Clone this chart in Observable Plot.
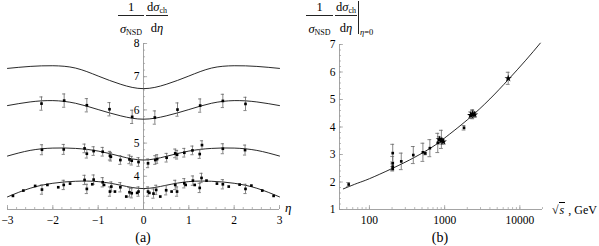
<!DOCTYPE html>
<html><head><meta charset="utf-8">
<script src="https://cdn.jsdelivr.net/npm/d3@7"></script>
<script src="https://cdn.jsdelivr.net/npm/@observablehq/plot@0.6"></script>
<style>
body{margin:0;background:#fff;}
#wrap{position:relative;width:599px;height:246px;font-family:"Liberation Serif","Times New Roman",Times,"DejaVu Serif","Noto Serif",serif;color:#000;overflow:hidden;}
#wrap svg{position:absolute;top:0;}
#wrap svg text{font-family:"Liberation Serif","Times New Roman",Times,"DejaVu Serif","Noto Serif",serif;}
.lab{position:absolute;white-space:nowrap;line-height:1;color:#000;}
.sub{font-size:8px;position:relative;top:2px;font-style:normal;color:#000;}
.hl{position:absolute;height:1px;background:#222;}
</style></head><body><div id="wrap"></div>
<script>
// ---------- panel (a) data ----------
const etaGrid  = [-3,-2.5,-2,-1.5,-1,-0.5,0,0.5,1,1.5,2,2.5,3];
const curveTop = [7.25,7.31,7.33,7.26,7.02,6.77,6.64,6.77,7.02,7.26,7.33,7.31,7.25];
const curve2   = [6.13,6.24,6.28,6.20,6.01,5.82,5.72,5.82,6.01,6.20,6.28,6.24,6.13];
const curve3   = [4.61,4.78,4.85,4.84,4.76,4.60,4.49,4.60,4.76,4.84,4.85,4.78,4.61];
const curve4   = [3.38,3.64,3.79,3.85,3.84,3.73,3.63,3.73,3.84,3.85,3.79,3.64,3.38];

const s2Eta = [-2.25,-1.75,-1.25,-0.75,-0.25,0.25,0.75,1.25,1.75,2.25];
const s2Val = [6.19,6.28,6.14,6.02,5.79,5.77,6.01,6.13,6.27,6.18];
const s2Err = [0.2,0.2,0.2,0.2,0.2,0.2,0.2,0.2,0.2,0.2];

const s3Eta = [-2.24,-1.76,-1.30,-1.25,-1.10,-0.90,-0.74,-0.72,-0.51,-0.31,-0.26,-0.11,0.10,0.26,0.30,0.51,0.70,0.74,0.90,1.08,1.24,1.29,1.75,2.24];
const s3Val = [4.80,4.81,4.84,4.68,4.76,4.74,4.62,4.59,4.49,4.51,4.47,4.43,4.39,4.49,4.52,4.56,4.69,4.65,4.71,4.78,4.67,4.94,4.83,4.79];
const s3Err = [0.15,0.15,0.13,0.13,0.13,0.13,0.13,0.13,0.13,0.13,0.13,0.13,0.13,0.13,0.13,0.13,0.13,0.13,0.13,0.13,0.13,0.13,0.15,0.15];

const s4Eta = [-2.88,-2.65,-2.39,-2.24,-2.12,-1.88,-1.76,-1.62,-1.30,-1.25,-1.13,-1.10,-0.90,-0.87,-0.74,-0.71,-0.63,-0.51,-0.38,-0.31,-0.26,-0.14,-0.11,0.10,0.13,0.22,0.28,0.37,0.50,0.62,0.70,0.74,0.90,0.93,1.09,1.13,1.24,1.28,1.39,1.62,1.75,1.88,2.12,2.25,2.38,2.62,2.87];
const s4Val = [3.41,3.57,3.71,3.60,3.74,3.67,3.74,3.78,3.89,3.62,3.76,3.90,3.82,3.74,3.54,3.69,3.54,3.67,3.39,3.52,3.49,3.50,3.54,3.54,3.50,3.48,3.59,3.39,3.58,3.54,3.74,3.54,3.79,3.74,3.87,3.74,3.65,3.95,3.87,3.78,3.76,3.69,3.75,3.62,3.72,3.57,3.41];
const s4Err = [0,0,0,0.14,0,0,0.14,0,0.14,0.14,0,0.14,0.14,0,0.14,0.14,0,0.14,0,0.14,0.14,0,0.14,0.14,0,0.14,0.14,0,0.14,0,0.14,0.14,0.14,0,0.14,0,0.14,0.14,0,0,0.14,0,0,0.14,0,0,0];

const etaTicks = [-3,-2,-1,0,1,2,3];
const yTicksA  = [4,5,6,7,8];

// ---------- panel (b) data ----------
const curveS = [45,70,100,200,400,700,1000,2000,4000,7000,12000,18700];
const curveV = [1.75,1.96,2.12,2.49,2.90,3.29,3.60,4.26,5.02,5.72,6.43,7.05];

const sqS   = [53,204,204,204,204,265,383,514,553,636,810,905,1810,2360];
const sqV   = [1.91,3.05,2.68,2.56,2.48,2.75,2.98,3.08,3.04,3.23,3.42,3.55,3.97,4.45];
const sqErr = [0.07,0.32,0.25,0.1,0.08,0.3,0.31,0.33,0.05,0.31,0.35,0.33,0.08,0.15];

const stS   = [850,900,960,2220,2360,2500,7000];
const stV   = [3.55,3.50,3.47,4.43,4.48,4.45,5.77];
const stErr = [0.1,0.12,0.1,0.12,0.15,0.1,0.22];

const sTicks   = [100,1000,10000];
const yTicksB  = [1,2,3,4,5,6,7];

// ---------- helpers ----------
const FONT = '"Liberation Serif","Times New Roman",Times,"DejaVu Serif","Noto Serif",serif';
const minus = d => d < 0 ? "\u2212" + (-d) : String(d);
const pts = (xs, ys, es) => xs.map((x, i) => ({x, y: ys[i], e: es[i]}));
const curveRows = (xs, ys, name) => xs.map((x, i) => ({x, y: ys[i], name}));
const AX = "#9a9a9a", EB = "#666";

function errMarks(data, capHalf, logCap) {
  const d = data.filter(p => p.e > 0);
  return [
    Plot.ruleX(d, {x: "x", y1: p => p.y - p.e, y2: p => p.y + p.e, stroke: EB, strokeWidth: 0.8}),
    Plot.ruleY(d, {y: p => p.y - p.e, x1: p => logCap ? p.x / capHalf : p.x - capHalf, x2: p => logCap ? p.x * capHalf : p.x + capHalf, stroke: EB, strokeWidth: 0.8}),
    Plot.ruleY(d, {y: p => p.y + p.e, x1: p => logCap ? p.x / capHalf : p.x - capHalf, x2: p => logCap ? p.x * capHalf : p.x + capHalf, stroke: EB, strokeWidth: 0.8})
  ];
}

// ---------- panel (a) ----------
const curvesA = [
  ...curveRows(etaGrid, curveTop, "a"), ...curveRows(etaGrid, curve2, "b"),
  ...curveRows(etaGrid, curve3, "c"), ...curveRows(etaGrid, curve4, "d")];
const p2 = pts(s2Eta, s2Val, s2Err), p3 = pts(s3Eta, s3Val, s3Err), p4 = pts(s4Eta, s4Val, s4Err);
const etaMinor = d3.range(-3, 3.001, 0.2).map(v => +v.toFixed(2));
const yMinorA = d3.range(3, 8.001, 0.2).map(v => +v.toFixed(2));

const left = Plot.plot({
  width: 300, height: 246, marginLeft: 7, marginRight: 21, marginTop: 43, marginBottom: 37,
  x: {domain: [-3, 3], axis: null}, y: {domain: [3, 8], axis: null},
  style: {fontFamily: FONT, fontSize: "11.5px", background: "transparent", overflow: "visible"},
  marks: [
    Plot.ruleY([3], {x1: -3, x2: 3, stroke: AX, strokeWidth: 0.9}),
    Plot.ruleX([0], {y1: 3, y2: 8, stroke: AX, strokeWidth: 0.9}),
    Plot.ruleX(etaMinor, {x: d => d, y1: 3, y2: 3.06, stroke: AX, strokeWidth: 0.7}),
    Plot.ruleX(etaTicks, {x: d => d, y1: 3, y2: 3.12, stroke: AX, strokeWidth: 0.8}),
    Plot.ruleY(yMinorA, {y: d => d, x1: 0, x2: 0.045, stroke: AX, strokeWidth: 0.7}),
    Plot.ruleY(yTicksA, {y: d => d, x1: 0, x2: 0.09, stroke: AX, strokeWidth: 0.8}),
    Plot.text(etaTicks, {x: d => d, y: 3, dy: 11, text: minus, fill: "#000", fontFamily: FONT}),
    Plot.text(yTicksA, {x: 0, y: d => d, dx: -4, textAnchor: "end", text: d => String(d), fill: "#000", fontFamily: FONT}),
    Plot.line(curvesA, {x: "x", y: "y", z: "name", curve: "natural", stroke: "#111", strokeWidth: 0.9}),
    ...errMarks(p2, 0.035, false), ...errMarks(p3, 0.035, false), ...errMarks(p4, 0.035, false),
    Plot.dot([...p2, ...p3, ...p4], {x: "x", y: "y", r: 1.5, fill: "#000", stroke: null, symbol: "square"})
  ]
});

// ---------- panel (b) ----------
const curveB = curveRows(curveS, curveV, "fit");
const pSq = pts(sqS, sqV, sqErr), pSt = pts(stS, stV, stErr);
const sMinor = [];
[10, 100, 1000, 10000].forEach(dec => { for (let k = 1; k <= 9; k++) { const v = k * dec; if (v >= 40 && v <= 20000) sMinor.push(v); } });
const yMinorB = d3.range(1, 7.001, 0.2).map(v => +v.toFixed(2));

const right = Plot.plot({
  width: 299, height: 246, marginLeft: 39, marginRight: 57, marginTop: 44, marginBottom: 37,
  x: {type: "log", domain: [40, 20000], axis: null}, y: {domain: [1, 7], axis: null},
  style: {fontFamily: FONT, fontSize: "11.5px", background: "transparent", overflow: "visible"},
  marks: [
    Plot.ruleY([1], {x1: 40, x2: 20000, stroke: AX, strokeWidth: 0.9}),
    Plot.ruleX([40], {y1: 1, y2: 7, stroke: AX, strokeWidth: 0.9}),
    Plot.ruleX(sMinor, {x: d => d, y1: 1, y2: 1.07, stroke: AX, strokeWidth: 0.7}),
    Plot.ruleX(sTicks, {x: d => d, y1: 1, y2: 1.14, stroke: AX, strokeWidth: 0.8}),
    Plot.ruleY(yMinorB, {y: d => d, x1: 40, x2: 42.5, stroke: AX, strokeWidth: 0.7}),
    Plot.ruleY(yTicksB, {y: d => d, x1: 40, x2: 45, stroke: AX, strokeWidth: 0.8}),
    Plot.text(sTicks, {x: d => d, y: 1, dy: 11, text: d => String(d), fill: "#000", fontFamily: FONT}),
    Plot.text(yTicksB, {x: 40, y: d => d, dx: -4, textAnchor: "end", text: d => String(d), fill: "#000", fontFamily: FONT}),
    Plot.line(curveB, {x: "x", y: "y", curve: "natural", stroke: "#111", strokeWidth: 0.9}),
    ...errMarks(pSq, 1.06, true), ...errMarks(pSt, 1.06, true),
    Plot.dot(pSq, {x: "x", y: "y", r: 1.5, fill: "#000", stroke: null, symbol: "square"}),
    Plot.dot(pSt, {x: "x", y: "y", r: 2.3, fill: "#000", stroke: null, symbol: "star"})
  ]
});

const wrap = document.getElementById("wrap");
left.style.left = "0px";
right.style.left = "300px";
wrap.appendChild(left);
wrap.appendChild(right);

// ---------- text labels ----------
function lab(html, x, base, fs, anchor, extra) {
  const d = document.createElement("div");
  d.className = "lab";
  d.innerHTML = html;
  d.style.fontSize = fs + "px";
  d.style.left = x + "px";
  d.style.top = (base - 0.84 * fs) + "px";
  if (anchor === "middle") d.style.transform = "translateX(-50%)";
  if (extra) Object.assign(d.style, extra);
  wrap.appendChild(d);
}
function hline(x1, x2, y) {
  const d = document.createElement("div");
  d.className = "hl";
  d.style.left = x1 + "px"; d.style.width = (x2 - x1) + "px"; d.style.top = y + "px";
  wrap.appendChild(d);
}
function title(cx1, cx2, l1, l2, r1, r2) {
  lab("1", cx1, 11.7, 12.5, "middle");
  hline(l1, l2, 15);
  lab('<i>σ</i><span class="sub">NSD</span>', cx1, 33, 12.5, "middle");
  lab('d<i>σ</i><span class="sub">ch</span>', cx2, 11.7, 12.5, "middle");
  hline(r1, r2, 15);
  lab('d<i>η</i>', cx2, 32, 12.5, "middle");
}
title(131, 157, 118, 144, 146, 168);
title(319.5, 346, 306, 333, 335, 357);
// evaluation bar
const vb = document.createElement("div");
vb.style.cssText = "position:absolute;left:358px;top:1px;width:1px;height:33px;background:#222;";
wrap.appendChild(vb);
lab('<i>η</i>=0', 360, 35, 8.5, "start");

lab('<i>η</i>', 285, 212, 13, "start");
lab('√<span style="border-top:1px solid #000;font-style:italic;padding:0 1px;">s</span> , GeV', 552, 214, 12, "start");
lab('(a)', 143, 242.5, 14, "middle");
lab('(b)', 440, 242.5, 14, "middle");
</script></body></html>
